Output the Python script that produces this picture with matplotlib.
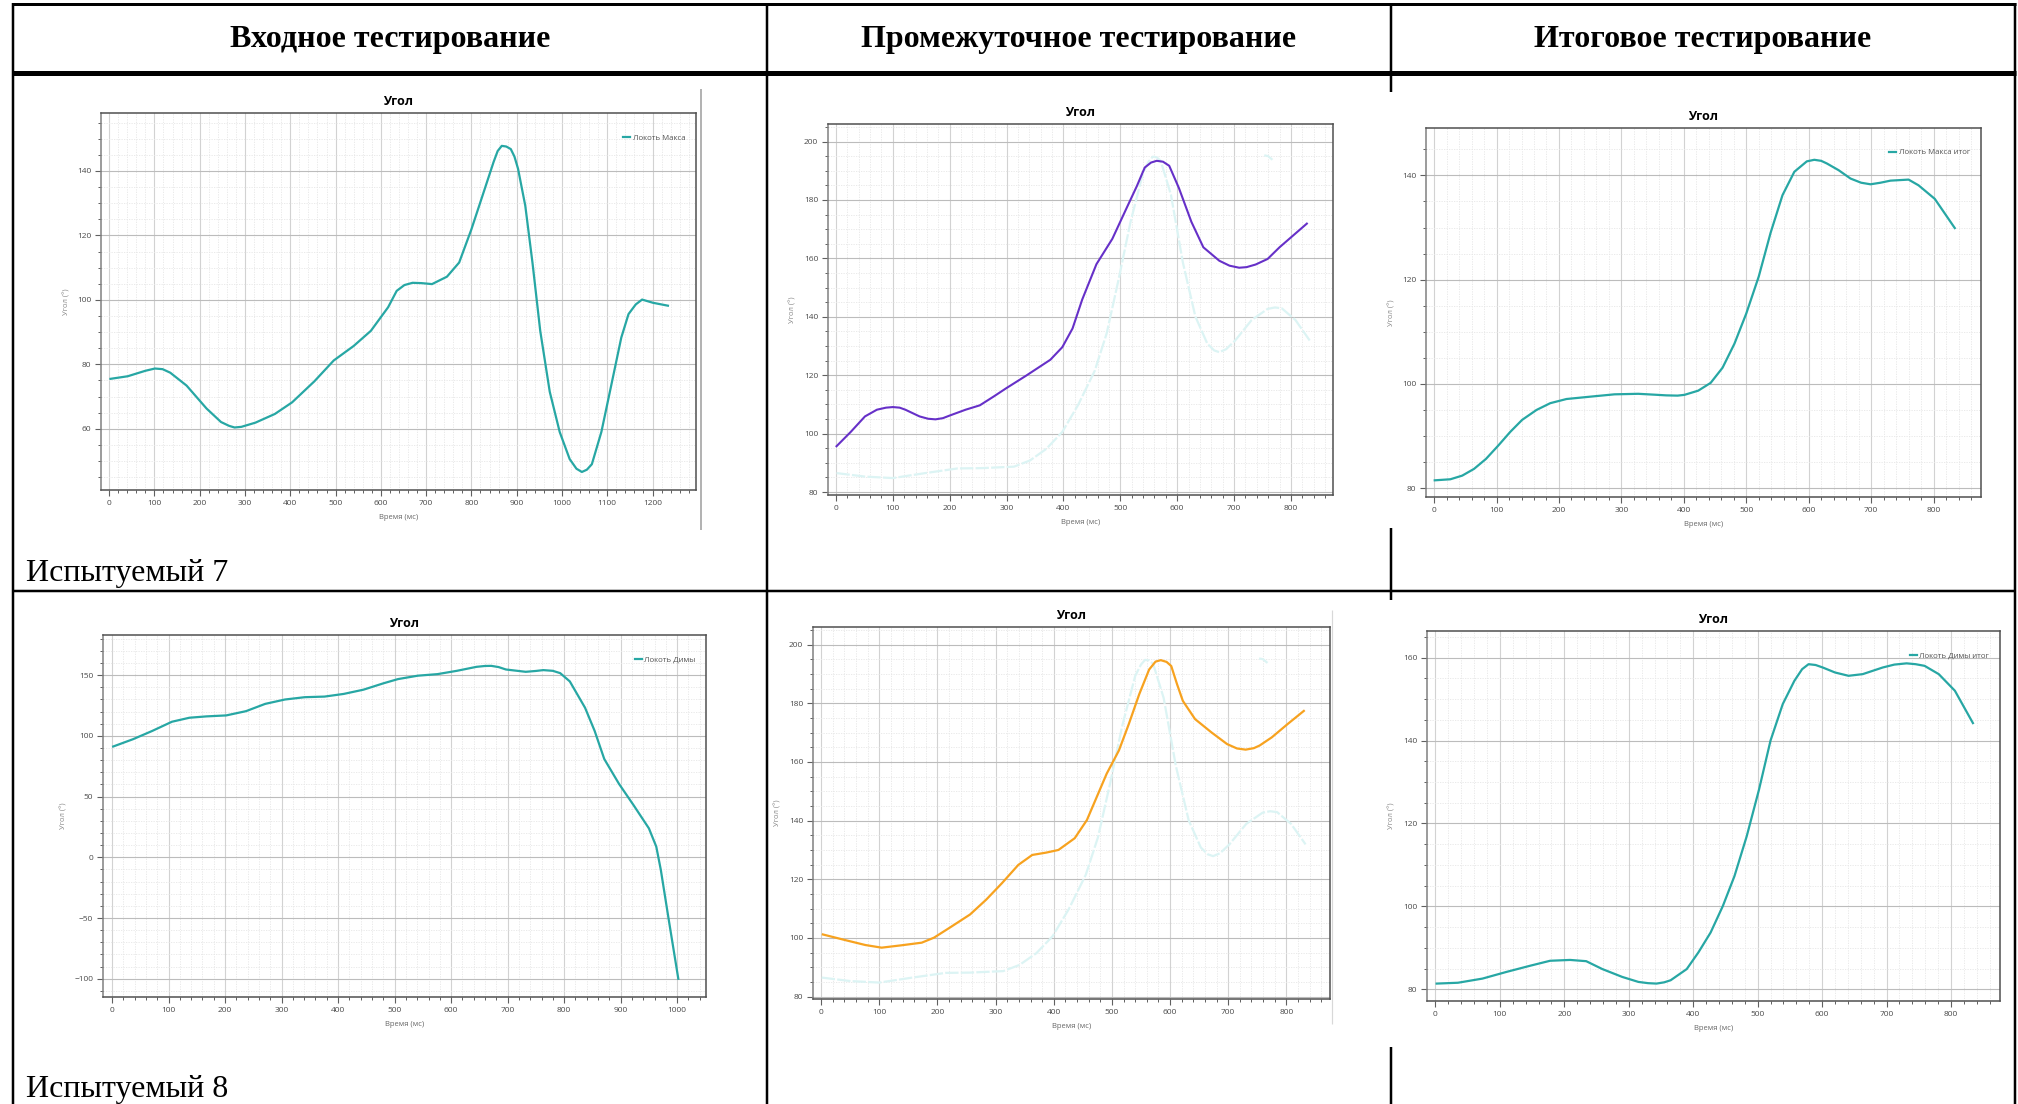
import matplotlib
matplotlib.use('Agg')
import matplotlib.pyplot as plt
from matplotlib.lines import Line2D
from matplotlib.ticker import MultipleLocator

# Испытуемый 7, входное
t_in7 = [3, 41, 80, 101, 118, 135, 171, 215, 247, 265, 277, 292, 323, 366, 404, 453, 496, 540, 578,
         616, 635, 652, 670, 690, 713, 746, 773, 800, 827, 849, 858, 867, 877, 887, 895, 903, 919,
         935, 952, 973, 995, 1017, 1032, 1044, 1055, 1066, 1087, 1109, 1131, 1147, 1163, 1177, 1201,
         1234]
a_in7 = [75.5, 76.3, 78.0, 78.7, 78.5, 77.4, 73.4, 66.3, 62.1, 60.9, 60.4, 60.6, 61.9, 64.6, 68.2,
         74.7, 81.2, 85.7, 90.4, 97.7, 102.8, 104.6, 105.3, 105.2, 104.9, 107.2, 111.6, 121.9, 133.4,
         142.8, 146.2, 147.8, 147.6, 146.8, 144.5, 140.7, 129.2, 111.4, 90.4, 71.5, 59.0, 50.6, 47.6,
         46.6, 47.3, 49.0, 59.0, 73.6, 88.3, 95.6, 98.6, 100.1, 99.1, 98.2]

# Испытуемый 7, промежуточное
t_mid7 = [1, 26, 51, 72, 88, 100, 112, 122, 147, 162, 175, 188, 200, 228, 253, 278, 299, 334, 377,
          398, 416, 433, 458, 486, 511, 529, 543, 554, 564, 575, 586, 603, 625, 646, 674, 692, 709,
          722, 738, 759, 780, 828]
a_mid7 = [95.7, 100.6, 105.9, 108.2, 108.9, 109.1, 108.9, 108.2, 105.9, 105.1, 104.9, 105.3, 106.2,
          108.2, 109.7, 112.8, 115.5, 119.8, 125.3, 129.6, 136.0, 145.9, 158.0, 166.7, 177.2, 184.7,
          191.1, 192.8, 193.4, 193.1, 191.7, 184.1, 172.5, 163.8, 159.2, 157.5, 156.8, 157.0, 157.9,
          159.8, 163.8, 171.9]

# бледная фоновая кривая на промежуточных графиках
t_ghost = [1, 51, 100, 157, 214, 256, 313, 341, 370, 398, 426, 455, 476, 497, 518, 540, 550, 557,
           564, 571, 589, 610, 632, 653, 665, 674, 686, 702, 731, 759, 772, 784, 808, 833]
a_ghost = [86.5, 85.3, 84.8, 86.5, 88.1, 88.2, 88.7, 90.8, 94.8, 100.6, 109.9, 121.5, 134.3, 152.8,
           172.5, 189.3, 193.2, 194.8, 194.6, 193.4, 181.8, 158.6, 140.1, 130.8, 128.5, 127.9, 128.9,
           131.9, 138.9, 142.7, 143.2, 142.9, 138.9, 131.9]
t_ghost_bit = [755, 760, 766]
a_ghost_bit = [195.2, 195.0, 194.0]

# Испытуемый 7, итоговое
t_fin7 = [1, 26, 45, 64, 83, 103, 122, 141, 164, 186, 212, 250, 289, 327, 350, 372, 390, 401, 423,
          443, 462, 481, 500, 520, 539, 558, 577, 597, 609, 620, 629, 648, 667, 684, 699, 715, 731,
          760, 776, 802, 834]
a_fin7 = [81.5, 81.7, 82.4, 83.7, 85.6, 88.2, 90.8, 93.1, 95.0, 96.3, 97.1, 97.55, 98.0, 98.1, 97.95,
          97.8, 97.75, 97.9, 98.7, 100.2, 103.1, 107.7, 113.5, 120.6, 129.0, 136.2, 140.7, 142.7,
          143.0, 142.8, 142.3, 141.0, 139.4, 138.6, 138.3, 138.6, 139.0, 139.2, 138.1, 135.5, 129.9]

# Испытуемый 8, входное
t_in8 = [2, 37, 71, 106, 137, 167, 202, 237, 271, 306, 341, 376, 410, 445, 480, 506, 541, 576, 610,
         645, 660, 671, 684, 697, 732, 750, 763, 780, 793, 810, 837, 854, 871, 897, 923, 950, 963,
         971, 984, 1002]
a_in8 = [91.2, 97.2, 104.0, 111.6, 114.9, 116.0, 116.8, 120.3, 126.3, 129.9, 131.8, 132.3, 134.5,
         138.0, 143.2, 146.7, 149.5, 150.8, 153.5, 156.8, 157.5, 157.6, 156.6, 154.6, 152.7, 153.4,
         154.1, 153.5, 151.6, 144.8, 123.1, 104.0, 80.9, 60.5, 42.8, 23.8, 8.8, -10.2, -48.3, -100.0]

# Испытуемый 8, промежуточное
t_mid8 = [3, 41, 76, 104, 138, 173, 194, 221, 256, 284, 311, 339, 363, 387, 408, 436, 457, 474, 491,
          512, 529, 547, 564, 575, 584, 594, 602, 612, 622, 643, 671, 698, 715, 730, 744, 754, 775,
          802, 830]
a_mid8 = [101.2, 99.3, 97.6, 96.7, 97.5, 98.4, 100.1, 103.5, 108.0, 113.1, 118.7, 124.9, 128.3,
          129.1, 130.0, 134.0, 140.2, 148.1, 156.0, 163.9, 172.9, 183.1, 191.5, 194.2, 194.7, 194.1,
          192.7, 186.5, 180.8, 174.6, 170.1, 166.1, 164.6, 164.2, 164.7, 165.6, 168.4, 172.9, 177.4]

# Испытуемый 8, итоговое
t_fin8 = [2, 35, 73, 110, 147, 178, 209, 234, 259, 290, 315, 330, 343, 355, 365, 390, 408, 427, 446,
          464, 483, 502, 520, 539, 557, 569, 579, 590, 601, 620, 641, 663, 694, 712, 731, 745, 759,
          781, 806, 834]
a_fin8 = [81.4, 81.6, 82.6, 84.2, 85.7, 86.9, 87.1, 86.8, 84.9, 83.0, 81.8, 81.5, 81.4, 81.7, 82.2,
          84.9, 88.9, 93.7, 100.1, 107.3, 116.9, 128.1, 140.0, 148.8, 154.4, 157.2, 158.4, 158.2,
          157.6, 156.4, 155.6, 156.0, 157.6, 158.3, 158.6, 158.4, 158.0, 156.0, 152.0, 144.2]

col_titles = ['Входное тестирование', 'Промежуточное тестирование', 'Итоговое тестирование']
row_titles = ['Испытуемый 7', 'Испытуемый 8']

TEAL = '#27a7a4'
PURPLE = '#6630c8'
ORANGE = '#f7a21f'
GHOST = '#dcf4f4'

W, H = 2018, 1104
fig = plt.figure(figsize=(W / 100, H / 100), dpi=100)
fig.patch.set_facecolor('white')

small_font = ['Open Sans', 'DejaVu Sans']

# фон-таблица в пикселях
bg = fig.add_axes([0, 0, 1, 1])
bg.set_xlim(0, W)
bg.set_ylim(H, 0)
bg.axis('off')


def hline(y, x0, x1, lw):
    bg.add_line(Line2D([x0, x1], [y, y], color='black', lw=lw * 0.72, solid_capstyle='butt'))


def vline(x, y0, y1, lw, color='black'):
    bg.add_line(Line2D([x, x], [y0, y1], color=color, lw=lw * 0.72, solid_capstyle='butt'))


hline(4, 12, 2016, 3)
hline(73, 12, 2016, 5)
hline(591, 12, 2016, 2.5)
vline(13, 3, H, 2.5)
vline(767, 3, H, 2.5)
vline(2015, 3, H, 2.5)
vline(1391, 3, 92, 2.5)
vline(1391, 528, 600, 2.5)
vline(1391, 1047, H, 2.5)
# края вставленных скриншотов
vline(701, 89, 530, 1.5, color='#9a9a9a')
vline(1332, 610, 1024, 1.2, color='#d8d8d8')

for cx, txt in zip([390, 1079, 1703], col_titles):
    bg.text(cx, 39, txt, ha='center', va='center', fontsize=23, fontweight='bold',
            family='Liberation Serif')
for cy, txt in zip([573, 1089], row_titles):
    bg.text(26, cy, txt, ha='left', va='center', fontsize=23, family='Liberation Serif')


def make_ax(rect, xlim, ylim, ystep, yminor):
    l, t, r, b = rect
    ax = fig.add_axes([l / W, 1 - b / H, (r - l) / W, (b - t) / H])
    ax.set_facecolor('white')
    ax.set_xlim(*xlim)
    ax.set_ylim(*ylim)
    ax.xaxis.set_major_locator(MultipleLocator(100))
    ax.xaxis.set_minor_locator(MultipleLocator(20))
    ax.yaxis.set_major_locator(MultipleLocator(ystep))
    ax.yaxis.set_minor_locator(MultipleLocator(yminor))
    ax.grid(True, which='major', axis='y', color='#bcbcbc', lw=0.8)
    ax.grid(True, which='major', axis='x', color='#d2d2d2', lw=0.8)
    ax.grid(True, which='minor', color='#e6e6e6', lw=0.6, ls=(0, (1.5, 1.5)))
    ax.set_axisbelow(True)
    for s in ax.spines.values():
        s.set_color('#505050')
        s.set_linewidth(1.1)
    ax.spines['left'].set_color('#808080')
    ax.tick_params(which='major', length=4, width=0.8, color='#606060',
                   labelsize=6, labelcolor='#4a4a4a', pad=3)
    ax.tick_params(which='minor', length=2.5, width=0.7, color='#606060')
    for lab in ax.get_xticklabels() + ax.get_yticklabels():
        lab.set_family(small_font)
    ax.set_title('Угол', fontsize=9, fontweight='bold', pad=6, family=small_font)
    ax.set_xlabel('Время (мс)', fontsize=5.5, color='#666666', family=small_font, labelpad=5)
    ax.set_ylabel('Угол (°)', fontsize=5.5, color='#888888', family=small_font, labelpad=5)
    return ax


def add_legend(ax, label):
    leg = ax.legend([Line2D([0], [0], color=TEAL, lw=1.6)], [label], loc='upper right',
                    bbox_to_anchor=(1.006, 0.982), frameon=False, handlelength=0.9,
                    handletextpad=0.3, borderaxespad=1.4,
                    prop={'family': small_font, 'size': 5.7})
    for tx in leg.get_texts():
        tx.set_color('#555555')


def curve(ax, t, a, color, lw=1.6, **kw):
    ax.plot(t, a, color=color, lw=lw, solid_joinstyle='round', **kw)


# ряд 1
ax1 = make_ax((101, 113, 696, 490), (-18, 1296), (41, 158), 20, 5)
curve(ax1, t_in7, a_in7, TEAL)
add_legend(ax1, 'Локоть Макса')

ax2 = make_ax((828, 124, 1333, 495), (-14, 874), (79, 206), 20, 5)
curve(ax2, t_ghost, a_ghost, GHOST, ls=(0, (6, 1)))
curve(ax2, t_ghost_bit, a_ghost_bit, GHOST)
curve(ax2, t_mid7, a_mid7, PURPLE, lw=1.5)

ax3 = make_ax((1426, 128, 1981, 497), (-13, 876), (78.3, 149.1), 20, 5)
curve(ax3, t_fin7, a_fin7, TEAL)
add_legend(ax3, 'Локоть Макса итог')

# ряд 2
ax4 = make_ax((103, 635, 706, 997), (-16, 1051), (-115, 183), 50, 10)
curve(ax4, t_in8, a_in8, TEAL)
add_legend(ax4, 'Локоть Димы')

ax5 = make_ax((813, 627, 1330, 999), (-14, 875), (79.2, 206), 20, 5)
curve(ax5, t_ghost, a_ghost, GHOST, ls=(0, (6, 1)))
curve(ax5, t_ghost_bit, a_ghost_bit, GHOST)
curve(ax5, t_mid8, a_mid8, ORANGE)

ax6 = make_ax((1427, 631, 2000, 1001), (-13, 876), (77.2, 166.4), 20, 5)
curve(ax6, t_fin8, a_fin8, TEAL)
add_legend(ax6, 'Локоть Димы итог')

fig.savefig('out.png', dpi=100, facecolor='white')
